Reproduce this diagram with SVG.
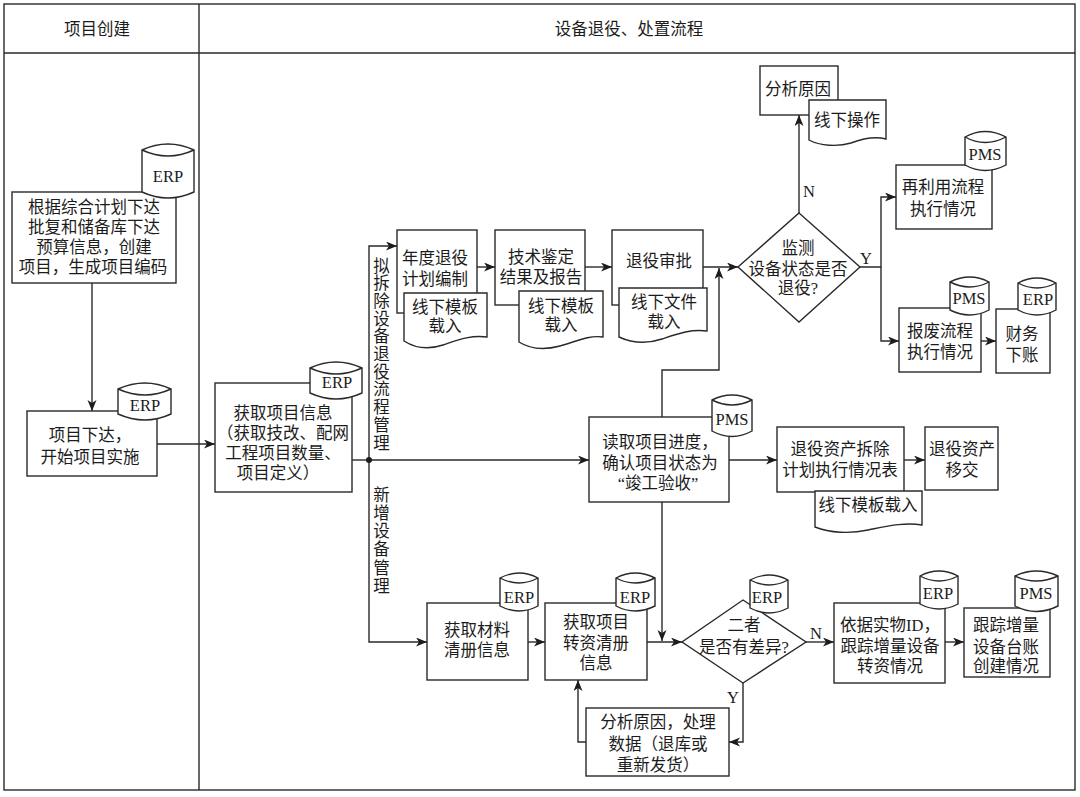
<svg xmlns="http://www.w3.org/2000/svg" width="1080" height="797" viewBox="0 0 1080 797">
<style>
text{font-family:"Liberation Serif","Noto Sans CJK SC",serif;font-size:16.5px;fill:#1c1c1c;text-anchor:middle;dominant-baseline:central}
.s{fill:#fff;stroke:#2a2a2a;stroke-width:1.4}
.l{fill:none;stroke:#2a2a2a;stroke-width:1.4}
.a{marker-end:url(#ah)}
.v{writing-mode:vertical-rl;text-orientation:upright;text-anchor:start;letter-spacing:1.2px;dominant-baseline:auto}
</style>
<defs>
<marker id="ah" markerUnits="userSpaceOnUse" markerWidth="12" markerHeight="10" refX="11" refY="4.5" orient="auto"><path d="M0,0 L11,4.5 L0,9 L3,4.5 Z" fill="#1c1c1c"/></marker>
</defs>
<rect width="1080" height="797" fill="#fff"/>
<g id="frame">
<rect class="l" x="4" y="4" width="1071" height="786"/>
<path class="l" d="M4,53H1075M199,4V790"/>
<text x="97" y="29">项目创建</text>
<text x="629" y="29">设备退役、处置流程</text>
</g>
<g id="connectors">
<path class="l a" d="M92,283V411"/>
<path class="l a" d="M157,444H215"/>
<path class="l" d="M352,460H369"/>
<path class="l a" d="M369,460V246H397"/>
<path class="l a" d="M369,460V642H427"/>
<path class="l a" d="M369,460H589"/>
<circle cx="369" cy="460" r="3" fill="#1c1c1c"/>
<path class="l a" d="M477,267H495"/>
<path class="l a" d="M585,267H612"/>
<path class="l a" d="M703,267H738"/>
<path class="l a" d="M662,417V370H719V268"/>
<path class="l a" d="M662,502V641"/>
<path class="l a" d="M799,213V115"/>
<path class="l a" d="M860,267H881V197H896"/>
<path class="l a" d="M881,267V341H899"/>
<path class="l a" d="M981,341H996"/>
<path class="l a" d="M729,460H777"/>
<path class="l a" d="M904,460H925"/>
<path class="l a" d="M528,642H545"/>
<path class="l a" d="M647,642H682"/>
<path class="l a" d="M806,642H834"/>
<path class="l a" d="M945,642H964"/>
<path class="l a" d="M743,683V742H729"/>
<path class="l a" d="M586,742H578V680"/>
<text x="809" y="191">N</text>
<text x="866" y="258">Y</text>
<text x="816" y="633">N</text>
<text x="733" y="697">Y</text>
<text class="v" x="380" y="257">拟拆除设备退役流程管理</text>
<text class="v" x="380" y="486" style="letter-spacing:1.8px">新增设备管理</text>
</g>
<g id="n-plan">
<rect class="s" x="12" y="192" width="164" height="91"/>
<path class="s" d="M142,150Q168,138 194,150V192Q168,204 142,192Z"/><path class="l" d="M142,150Q168,162 194,150"/>
<text x="168" y="176">ERP</text>
<text x="94" y="207">根据综合计划下达</text><text x="94" y="227">批复和储备库下达</text><text x="94" y="247">预算信息，创建</text><text x="93" y="267">项目，生成项目编码</text>
</g>
<g id="n-release">
<rect class="s" x="27" y="411" width="130" height="65"/>
<path class="s" d="M118,389Q145,377 171,389V414Q145,426 118,414Z"/><path class="l" d="M118,389Q145,401 171,389"/>
<text x="145" y="405">ERP</text>
<text x="90" y="435">项目下达，</text><text x="90" y="457">开始项目实施</text>
</g>
<g id="n-info">
<rect class="s" x="215" y="383" width="137" height="109"/>
<path class="s" d="M310,368Q336,356 362,368V393Q336,405 310,393Z"/><path class="l" d="M310,368Q336,380 362,368"/>
<text x="337" y="382">ERP</text>
<text x="283" y="413">获取项目信息</text><text x="283" y="433">（获取技改、配网</text><text x="283" y="453">工程项目数量、</text><text x="278" y="473">项目定义）</text>
</g>
<g id="n-annual">
<rect class="s" x="397" y="230" width="80" height="83"/>
<path class="s" d="M404,293H487V337C470,335 458,340 443,345C428,350 415,348 404,341Z"/>
<text x="435" y="258">年度退役</text><text x="435" y="279">计划编制</text>
<text x="445" y="307">线下模板</text><text x="445" y="326">载入</text>
</g>
<g id="n-tech">
<rect class="s" x="495" y="230" width="90" height="75"/>
<path class="s" d="M519,291H603V337C588,335 575,342 560,346C545,350 530,349 519,342Z"/>
<text x="541" y="257">技术鉴定</text><text x="541" y="277">结果及报告</text>
<text x="561" y="306">线下模板</text><text x="561" y="325">载入</text>
</g>
<g id="n-approve">
<rect class="s" x="612" y="230" width="91" height="75"/>
<path class="s" d="M619,288H707V331C690,329 677,334 662,339C647,344 632,343 619,337Z"/>
<text x="659" y="261">退役审批</text>
<text x="664" y="302">线下文件</text><text x="664" y="322">载入</text>
</g>
<g id="n-monitor">
<path class="s" d="M799,213L860,267L799,322L738,267Z"/>
<text x="798" y="248">监测</text><text x="798" y="269">设备状态是否</text><text x="798" y="288">退役?</text>
</g>
<g id="n-reason">
<rect class="s" x="760" y="66" width="78" height="49"/>
<path class="s" d="M809,100H886V139C875,136 864,138 851,143C838,147 820,146 809,140Z"/>
<text x="798" y="89">分析原因</text><text x="847" y="120">线下操作</text>
</g>
<g id="n-reuse">
<rect class="s" x="896" y="165" width="96" height="64"/>
<path class="s" d="M965,137Q985,126 1006,137V165Q985,176 965,165Z"/><path class="l" d="M965,137Q985,148 1006,137"/>
<text x="985" y="154">PMS</text>
<text x="943" y="187">再利用流程</text><text x="943" y="209">执行情况</text>
</g>
<g id="n-scrap">
<rect class="s" x="899" y="308" width="82" height="64"/>
<path class="s" d="M950,282Q970,272 989,282V310Q970,320 950,310Z"/><path class="l" d="M950,282Q970,292 989,282"/>
<text x="969" y="298">PMS</text>
<text x="940" y="331">报废流程</text><text x="940" y="352">执行情况</text>
</g>
<g id="n-finance">
<rect class="s" x="996" y="309" width="54" height="64"/>
<path class="s" d="M1018,283Q1037,273 1056,283V310Q1037,320 1018,310Z"/><path class="l" d="M1018,283Q1037,293 1056,283"/>
<text x="1038" y="299">ERP</text>
<text x="1022" y="334">财务</text><text x="1022" y="355">下账</text>
</g>
<g id="n-read">
<rect class="s" x="589" y="417" width="140" height="85"/>
<path class="s" d="M712,400Q732,390 752,400V431Q732,442 712,431Z"/><path class="l" d="M712,400Q732,410 752,400"/>
<text x="732" y="419">PMS</text>
<text x="660" y="442">读取项目进度，</text><text x="660" y="463">确认项目状态为</text><text x="658" y="483">“竣工验收”</text>
</g>
<g id="n-dismantle">
<rect class="s" x="777" y="427" width="127" height="65"/>
<path class="s" d="M815,491H922V525C905,522 888,526 868,530C850,534 830,533 815,527Z"/>
<text x="840" y="449">退役资产拆除</text><text x="840" y="470">计划执行情况表</text>
<text x="868" y="505">线下模板载入</text>
</g>
<g id="n-transfer">
<rect class="s" x="925" y="427" width="73" height="63"/>
<text x="962" y="449">退役资产</text><text x="962" y="470">移交</text>
</g>
<g id="n-material">
<rect class="s" x="427" y="603" width="101" height="77"/>
<path class="s" d="M500,578Q519,568 538,578V606Q519,616 500,606Z"/><path class="l" d="M500,578Q519,588 538,578"/>
<text x="519" y="597">ERP</text>
<text x="477" y="630">获取材料</text><text x="477" y="650">清册信息</text>
</g>
<g id="n-capital">
<rect class="s" x="545" y="603" width="102" height="77"/>
<path class="s" d="M616,578Q635,568 655,578V606Q635,616 616,606Z"/><path class="l" d="M616,578Q635,588 655,578"/>
<text x="635" y="597">ERP</text>
<text x="596" y="622">获取项目</text><text x="596" y="643">转资清册</text><text x="596" y="663">信息</text>
</g>
<g id="n-diff">
<path class="s" d="M743,600L806,642L743,683L682,642Z"/>
<path class="s" d="M750,580Q769,570 788,580V608Q769,618 750,608Z"/><path class="l" d="M750,580Q769,590 788,580"/>
<text x="767" y="597">ERP</text>
<text x="744" y="625">二者</text><text x="744" y="647">是否有差异?</text>
</g>
<g id="n-reason2">
<rect class="s" x="586" y="708" width="143" height="68"/>
<text x="658" y="722">分析原因，处理</text><text x="658" y="744">数据（退库或</text><text x="658" y="765">重新发货）</text>
</g>
<g id="n-track">
<rect class="s" x="834" y="603" width="111" height="80"/>
<path class="s" d="M920,576Q939,566 958,576V604Q939,614 920,604Z"/><path class="l" d="M920,576Q939,586 958,576"/>
<text x="938" y="593">ERP</text>
<text x="890" y="625">依据实物ID，</text><text x="890" y="646">跟踪增量设备</text><text x="890" y="666">转资情况</text>
</g>
<g id="n-ledger">
<rect class="s" x="964" y="608" width="86" height="69"/>
<path class="s" d="M1015,576Q1036,566 1058,576V606Q1036,617 1015,606Z"/><path class="l" d="M1015,576Q1036,586 1058,576"/>
<text x="1036" y="593">PMS</text>
<text x="1006" y="625">跟踪增量</text><text x="1006" y="647">设备台账</text><text x="1006" y="666">创建情况</text>
</g>
</svg>
